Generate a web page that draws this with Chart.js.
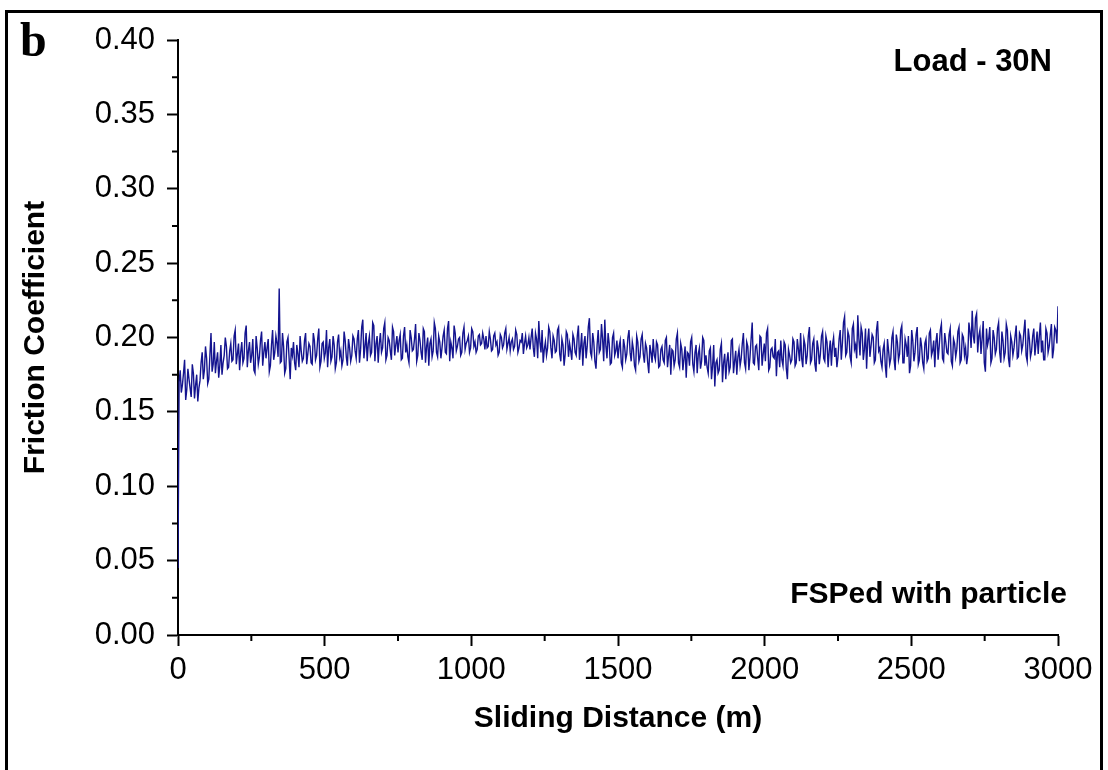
<!DOCTYPE html>
<html>
<head>
<meta charset="utf-8">
<script src="https://cdn.jsdelivr.net/npm/chart.js@4/dist/chart.umd.min.js"></script>
<style>
  html, body { margin: 0; padding: 0; background: #fff; }
  #wrap { width: 1108px; height: 770px; }
</style>
</head>
<body>
<div id="wrap"><canvas id="c" width="1108" height="770"></canvas></div>
<script>
// ---- data ----
const distanceStep = 3.75;         // sampling step of the trace (m)
const xTickLabels = ['0', '500', '1000', '1500', '2000', '2500', '3000'];
const yTickLabels = ['0.00', '0.05', '0.10', '0.15', '0.20', '0.25', '0.30', '0.35', '0.40'];
// readings at 0, 7.5, 15 ... 3000 m
const frictionSeg0  = [0.045,0.178,0.168,0.185,0.165,0.172,0.160,0.176,0.168,0.157,0.171,0.190,0.178,0.186,0.172,0.203,0.182,0.176,0.190,0.181];
const frictionSeg1  = [0.175,0.188,0.194,0.180,0.196,0.185,0.205,0.189,0.178,0.197,0.186,0.208,0.191,0.183,0.199,0.176,0.193,0.187,0.204,0.190];
const frictionSeg2  = [0.186,0.199,0.181,0.205,0.190,0.196,0.233,0.184,0.194,0.179,0.200,0.172,0.188,0.183,0.195,0.180,0.191,0.186,0.203,0.189];
const frictionSeg3  = [0.194,0.182,0.198,0.188,0.206,0.184,0.197,0.190,0.180,0.199,0.187,0.195,0.183,0.202,0.191,0.185,0.198,0.181,0.193,0.188];
const frictionSeg4  = [0.199,0.186,0.205,0.192,0.212,0.194,0.184,0.201,0.190,0.208,0.196,0.183,0.203,0.193,0.210,0.188,0.198,0.185,0.204,0.195];
const frictionSeg5  = [0.190,0.202,0.186,0.207,0.195,0.183,0.200,0.192,0.209,0.188,0.198,0.185,0.204,0.194,0.181,0.199,0.191,0.206,0.187,0.197];
const frictionSeg6  = [0.193,0.205,0.189,0.211,0.197,0.186,0.203,0.194,0.200,0.190,0.207,0.196,0.201,0.193,0.204,0.197,0.192,0.202,0.196,0.199];
const frictionSeg7  = [0.201,0.194,0.199,0.192,0.203,0.197,0.190,0.200,0.195,0.206,0.196,0.191,0.199,0.194,0.202,0.193,0.197,0.189,0.201,0.195];
const frictionSeg8  = [0.192,0.206,0.187,0.199,0.211,0.190,0.183,0.197,0.193,0.204,0.186,0.198,0.191,0.207,0.184,0.195,0.189,0.202,0.196,0.185];
const frictionSeg9  = [0.199,0.188,0.208,0.193,0.181,0.201,0.194,0.213,0.187,0.197,0.179,0.205,0.192,0.199,0.212,0.186,0.196,0.183,0.203,0.191];
const frictionSeg10 = [0.186,0.198,0.180,0.194,0.189,0.205,0.184,0.192,0.178,0.197,0.187,0.202,0.183,0.193,0.176,0.190,0.199,0.185,0.195,0.181];
const frictionSeg11 = [0.194,0.183,0.200,0.188,0.175,0.191,0.185,0.203,0.180,0.192,0.186,0.173,0.189,0.197,0.182,0.190,0.176,0.193,0.184,0.198];
const frictionSeg12 = [0.188,0.176,0.193,0.181,0.167,0.185,0.178,0.196,0.183,0.172,0.190,0.180,0.199,0.184,0.175,0.192,0.186,0.203,0.179,0.194];
const frictionSeg13 = [0.187,0.210,0.182,0.195,0.178,0.200,0.189,0.184,0.206,0.180,0.193,0.186,0.174,0.191,0.198,0.181,0.195,0.172,0.188,0.185];
const frictionSeg14 = [0.197,0.183,0.192,0.203,0.180,0.195,0.188,0.207,0.185,0.199,0.177,0.193,0.189,0.204,0.184,0.197,0.191,0.181,0.200,0.193];
const frictionSeg15 = [0.187,0.205,0.196,0.214,0.190,0.201,0.183,0.209,0.195,0.215,0.188,0.203,0.192,0.179,0.206,0.194,0.200,0.185,0.211,0.193];
const frictionSeg16 = [0.180,0.196,0.173,0.191,0.186,0.204,0.178,0.197,0.189,0.208,0.183,0.195,0.201,0.181,0.198,0.190,0.207,0.185,0.194,0.179];
const frictionSeg17 = [0.199,0.186,0.205,0.191,0.180,0.203,0.194,0.209,0.184,0.197,0.189,0.206,0.181,0.196,0.192,0.207,0.185,0.200,0.193,0.188];
const frictionSeg18 = [0.204,0.218,0.196,0.216,0.201,0.189,0.211,0.177,0.195,0.207,0.186,0.200,0.192,0.210,0.183,0.198,0.190,0.205,0.180,0.197];
const frictionSeg19 = [0.193,0.208,0.187,0.201,0.195,0.212,0.184,0.199,0.191,0.206,0.196,0.189,0.210,0.198,0.185,0.203,0.194,0.209,0.192,0.205];
const frictionEnd   = [0.221];
// readings at 3.75, 11.25, 18.75 ... 2996.25 m
const frictionMid0  = [0.170,0.163,0.176,0.158,0.179,0.166,0.182,0.159,0.175,0.166,0.183,0.172,0.194,0.169,0.188,0.177,0.197,0.184,0.173,0.195];
const frictionMid1  = [0.183,0.200,0.179,0.191,0.184,0.201,0.182,0.196,0.190,0.183,0.203,0.180,0.197,0.188,0.178,0.201,0.182,0.198,0.181,0.197];
const frictionMid2  = [0.193,0.177,0.195,0.185,0.201,0.187,0.183,0.203,0.176,0.197,0.186,0.193,0.197,0.178,0.189,0.201,0.184,0.198,0.182,0.196];
const frictionMid3  = [0.183,0.203,0.185,0.199,0.180,0.196,0.186,0.205,0.193,0.184,0.201,0.179,0.197,0.187,0.181,0.204,0.187,0.199,0.184,0.201];
const frictionMid4  = [0.191,0.199,0.183,0.207,0.186,0.203,0.196,0.188,0.210,0.184,0.201,0.196,0.190,0.206,0.185,0.200,0.191,0.207,0.188,0.201];
const frictionMid5  = [0.198,0.185,0.201,0.190,0.187,0.205,0.191,0.199,0.184,0.203,0.190,0.206,0.183,0.200,0.196,0.187,0.210,0.190,0.201,0.186];
const frictionMid6  = [0.201,0.190,0.206,0.184,0.193,0.208,0.191,0.199,0.188,0.203,0.192,0.198,0.190,0.206,0.194,0.190,0.201,0.195,0.203,0.192];
const frictionMid7  = [0.193,0.204,0.191,0.201,0.195,0.188,0.202,0.193,0.203,0.192,0.200,0.197,0.192,0.205,0.190,0.198,0.203,0.196,0.193,0.200];
const frictionMid8  = [0.200,0.193,0.203,0.186,0.197,0.205,0.192,0.188,0.207,0.193,0.201,0.190,0.205,0.189,0.199,0.181,0.204,0.187,0.191,0.202];
const frictionMid9  = [0.190,0.201,0.185,0.203,0.196,0.186,0.207,0.190,0.203,0.184,0.195,0.190,0.209,0.184,0.194,0.203,0.182,0.200,0.188,0.198];
const frictionMid10 = [0.194,0.183,0.199,0.185,0.200,0.190,0.197,0.181,0.201,0.184,0.199,0.189,0.196,0.183,0.195,0.183,0.188,0.197,0.180,0.192];
const frictionMid11 = [0.185,0.198,0.180,0.195,0.192,0.181,0.199,0.183,0.196,0.178,0.194,0.190,0.181,0.200,0.177,0.195,0.189,0.179,0.200,0.181];
const frictionMid12 = [0.180,0.191,0.172,0.195,0.183,0.176,0.192,0.170,0.189,0.184,0.177,0.198,0.176,0.191,0.187,0.181,0.196,0.183,0.197,0.178];
const frictionMid13 = [0.199,0.183,0.194,0.186,0.201,0.181,0.196,0.203,0.178,0.192,0.187,0.199,0.190,0.180,0.185,0.197,0.179,0.192,0.183,0.199];
const frictionMid14 = [0.181,0.199,0.184,0.186,0.199,0.182,0.201,0.183,0.196,0.182,0.198,0.182,0.201,0.186,0.201,0.180,0.198,0.195,0.187,0.180];
const frictionMid15 = [0.199,0.185,0.210,0.188,0.204,0.187,0.206,0.192,0.186,0.199,0.207,0.185,0.206,0.198,0.187,0.202,0.183,0.205,0.191,0.184];
const frictionMid16 = [0.192,0.181,0.199,0.182,0.200,0.185,0.202,0.185,0.205,0.183,0.199,0.187,0.176,0.205,0.184,0.202,0.182,0.200,0.183,0.196];
const frictionMid17 = [0.184,0.203,0.188,0.198,0.197,0.185,0.205,0.186,0.203,0.190,0.202,0.184,0.199,0.187,0.204,0.183,0.202,0.188,0.182,0.210];
const frictionMid18 = [0.193,0.201,0.213,0.190,0.205,0.199,0.183,0.206,0.199,0.183,0.205,0.189,0.206,0.190,0.204,0.186,0.209,0.186,0.201,0.188];
const frictionMid19 = [0.201,0.186,0.203,0.191,0.204,0.188,0.206,0.187,0.201,0.188,0.204,0.201,0.190,0.185,0.206,0.190,0.202,0.186,0.207,0.196];

const frictionMain = [].concat(frictionSeg0, frictionSeg1, frictionSeg2, frictionSeg3, frictionSeg4,
  frictionSeg5, frictionSeg6, frictionSeg7, frictionSeg8, frictionSeg9, frictionSeg10,
  frictionSeg11, frictionSeg12, frictionSeg13, frictionSeg14, frictionSeg15, frictionSeg16,
  frictionSeg17, frictionSeg18, frictionSeg19, frictionEnd);
const frictionMid = [].concat(frictionMid0, frictionMid1, frictionMid2, frictionMid3, frictionMid4,
  frictionMid5, frictionMid6, frictionMid7, frictionMid8, frictionMid9, frictionMid10,
  frictionMid11, frictionMid12, frictionMid13, frictionMid14, frictionMid15, frictionMid16,
  frictionMid17, frictionMid18, frictionMid19);
const friction = [];
frictionMain.forEach((v, i) => {
  friction.push(v);
  if (i < frictionMid.length) friction.push(frictionMid[i]);
});
const points = friction.map((v, i) => ({ x: i * distanceStep, y: v }));

// ---- styling ----
const SANS = '"Liberation Sans", Arial, sans-serif';
const isMajorX = v => Math.round(v) % 500 === 0;
const isMajorY = v => Math.round(v * 1000) % 50 === 0;

const decorPlugin = {
  id: 'decor',
  afterDraw(chart) {
    const ctx = chart.ctx;
    const xs = chart.scales.x, ys = chart.scales.y;
    ctx.save();
    // minor ticks
    ctx.strokeStyle = '#000';
    ctx.lineWidth = 2;
    ctx.beginPath();
    for (let v = 250; v < 3000; v += 500) {
      const px = xs.getPixelForValue(v);
      ctx.moveTo(px, ys.bottom); ctx.lineTo(px, ys.bottom + 6);
    }
    for (let k = 1; k < 16; k += 2) {
      const py = ys.getPixelForValue(k * 0.025);
      ctx.moveTo(xs.left, py); ctx.lineTo(xs.left - 6, py);
    }
    ctx.stroke();
    // annotations
    ctx.fillStyle = '#000';
    ctx.font = 'bold 48px "Liberation Serif", "Times New Roman", serif';
    ctx.textAlign = 'left';
    ctx.textBaseline = 'alphabetic';
    ctx.fillText('b', 20, 56);
    ctx.font = 'bold 31px ' + SANS;
    ctx.textAlign = 'right';
    ctx.textBaseline = 'middle';
    ctx.fillText('Load - 30N', 1052, 62);
    ctx.font = 'bold 30px ' + SANS;
    ctx.fillText('FSPed with particle', 1067, 595);
    // outer frame
    ctx.lineWidth = 3;
    ctx.strokeRect(6.5, 11.5, 1095, 800);
    ctx.restore();
  }
};

new Chart(document.getElementById('c'), {
  type: 'line',
  data: {
    datasets: [{
      data: points,
      borderColor: '#14148f',
      borderWidth: 1.4,
      pointRadius: 0,
      tension: 0,
      fill: false
    }]
  },
  options: {
    responsive: false,
    animation: false,
    events: [],
    layout: { padding: { left: 0, top: 40, right: 50, bottom: 0 } },
    plugins: { legend: { display: false }, tooltip: { enabled: false }, title: { display: false } },
    scales: {
      x: {
        type: 'linear',
        min: 0, max: 3000,
        afterFit(scale) { scale.height = 135; },
        border: { display: true, color: '#000', width: 2 },
        grid: {
          drawOnChartArea: false, drawTicks: true, tickLength: 11, tickWidth: 2,
          tickColor: c => (c.tick && isMajorX(c.tick.value)) ? '#000' : 'rgba(0,0,0,0)'
        },
        ticks: {
          stepSize: 250, autoSkip: false, maxRotation: 0, padding: 6,
          color: '#000', font: { family: SANS, size: 31 },
          callback: v => isMajorX(v) ? xTickLabels[Math.round(v / 500)] : ''
        },
        title: {
          display: true, text: 'Sliding Distance (m)', color: '#000',
          font: { family: SANS, size: 30, weight: 'bold' },
          padding: { top: 0, bottom: 33 }
        }
      },
      y: {
        type: 'linear',
        min: 0, max: 0.4,
        afterFit(scale) { scale.width = 178; },
        border: { display: true, color: '#000', width: 2 },
        grid: {
          drawOnChartArea: false, drawTicks: true, tickLength: 11, tickWidth: 2,
          tickColor: c => (c.tick && isMajorY(c.tick.value)) ? '#000' : 'rgba(0,0,0,0)'
        },
        ticks: {
          stepSize: 0.025, autoSkip: false, padding: 12,
          color: '#000', font: { family: SANS, size: 31 },
          callback: v => isMajorY(v) ? yTickLabels[Math.round(v / 0.05)] : ''
        },
        title: {
          display: true, text: 'Friction Coefficient', color: '#000',
          font: { family: SANS, size: 30, weight: 'bold' },
          padding: { top: 18, bottom: 0 }
        }
      }
    }
  },
  plugins: [decorPlugin]
});
</script>
</body>
</html>
